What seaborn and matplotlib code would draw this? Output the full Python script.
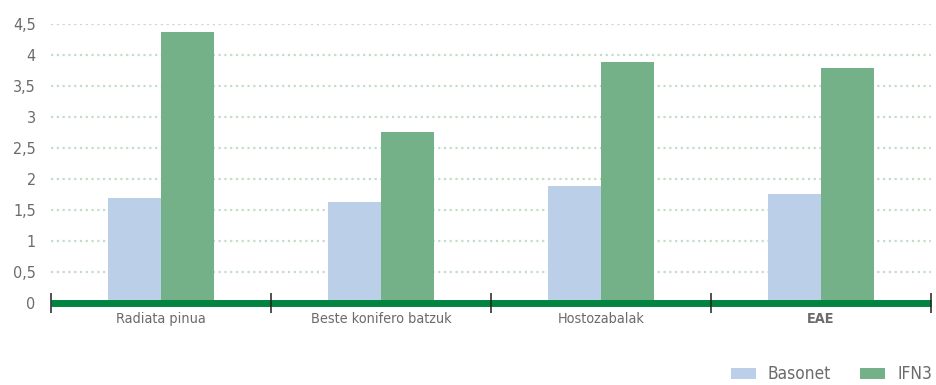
import matplotlib
matplotlib.use("Agg")
import matplotlib.pyplot as plt
from matplotlib import font_manager
from matplotlib.ticker import FuncFormatter, MultipleLocator
import seaborn as sns
import pandas as pd

categories = ["Radiata pinua", "Beste konifero batzuk", "Hostozabalak", "EAE"]
series_names = ["Basonet", "IFN3"]
basonet = [1.69, 1.62, 1.88, 1.75]
ifn3 = [4.37, 2.75, 3.88, 3.79]

colors = {"Basonet": "#BBCFE8", "IFN3": "#74B088"}
text_color = "#6b6b6b"
axis_green = "#00843F"
grid_green = "#C3DEC7"

df = pd.DataFrame({
    "category": categories * 2,
    "series": [series_names[0]] * len(categories) + [series_names[1]] * len(categories),
    "value": basonet + ifn3,
})

sns.set_style("white")
installed = {f.name for f in font_manager.fontManager.ttflist}
if "Liberation Sans Narrow" in installed:
    plt.rcParams["font.family"] = ["Liberation Sans Narrow", "DejaVu Sans"]
    scale = 1.0
    plt.rcParams["font.stretch"] = "normal"
else:
    plt.rcParams["font.family"] = ["DejaVu Sans"]
    plt.rcParams["font.stretch"] = "condensed"
    scale = 0.92

fig = plt.figure(figsize=(9.36, 3.85), dpi=100)
ax = fig.add_axes([51 / 936, 1 - 302.6 / 385, (931 - 51) / 936, (302.6 - 24) / 385])

sns.barplot(data=df, x="category", y="value", hue="series", order=categories,
            hue_order=series_names, palette=colors, width=0.48, gap=0,
            saturation=1, ax=ax, legend=False, linewidth=0)

ax.set_xlim(-0.5, len(categories) - 0.5)
ax.set_ylim(0, 4.5)
ax.set_xlabel("")
ax.set_ylabel("")

# dotted horizontal grid behind the bars
ax.yaxis.set_major_locator(MultipleLocator(0.5))
ax.yaxis.grid(True, linestyle=(0, (1, 1.6)), linewidth=1.6, color=grid_green)
ax.xaxis.grid(False)
ax.yaxis.set_zorder(0.5)
ax.xaxis.set_zorder(3)

def comma_fmt(v, _):
    s = f"{v:.1f}".rstrip("0").rstrip(".")
    return s.replace(".", ",")

ax.yaxis.set_major_formatter(FuncFormatter(comma_fmt))
ax.tick_params(axis="y", left=False, length=0, pad=11, labelsize=12.5 * scale,
               labelcolor=text_color)

# category separators as major ticks, labels on minor ticks
bounds = [i - 0.5 for i in range(len(categories) + 1)]
ax.set_xticks(bounds)
ax.set_xticklabels([""] * len(bounds))
ax.set_xticks(range(len(categories)), minor=True)
ax.set_xticklabels(categories, minor=True)
ax.tick_params(axis="x", which="major", bottom=True, direction="inout", length=14,
               width=1.1, color="#222222")
ax.tick_params(axis="x", which="minor", bottom=True, length=0, pad=7,
               labelsize=11.3 * scale, labelcolor=text_color)
for lbl in ax.get_xticklabels(minor=True):
    if lbl.get_text() == "EAE":
        lbl.set_fontweight("bold")

for side in ["top", "right", "left"]:
    ax.spines[side].set_visible(False)
ax.spines["bottom"].set_color(axis_green)
ax.spines["bottom"].set_linewidth(5.0)
ax.spines["bottom"].set_capstyle("butt")

handles = [plt.Rectangle((0, 0), 1, 1, color=colors[s], linewidth=0) for s in series_names]
leg = fig.legend(handles, series_names, loc="lower right",
                 bbox_to_anchor=(934 / 936, 0.0), ncol=2, frameon=False,
                 fontsize=13.5 * scale, handlelength=1.45, handleheight=0.62,
                 handletextpad=0.7, columnspacing=1.7, borderpad=0.1,
                 borderaxespad=0)
for t in leg.get_texts():
    t.set_color(text_color)

fig.savefig("out.png", dpi=100)
